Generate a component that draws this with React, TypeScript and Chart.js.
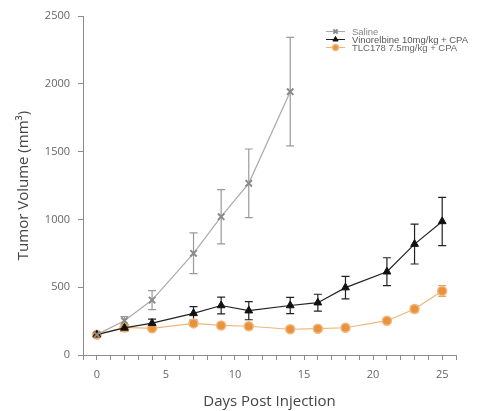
import React, { useEffect, useRef } from "react";
import { Chart, registerables } from "chart.js";
import { drawPoint } from "chart.js/helpers";

Chart.register(...registerables);

const days = [0, 2, 4, 7, 9, 11, 14, 16, 18, 21, 23, 25];
const salineDays = [0, 2, 4, 7, 9, 11, 14];
const saline = [150, 253, 405, 750, 1020, 1266, 1942];
const salineErr = [15, 30, 70, 150, 200, 253, 400];
const vinorelbine = [150, 200, 235, 307, 365, 327, 365, 386, 497, 614, 818, 985];
const vinorelbineErr = [15, 25, 30, 50, 62, 67, 60, 62, 83, 103, 147, 178];
const tlc178 = [150, 203, 197, 233, 218, 212, 190, 194, 201, 253, 339, 472];
const tlc178Err = [15, 15, 15, 18, 15, 15, 12, 12, 15, 18, 25, 40];
const seriesLabels = ["Saline", "Vinorelbine 10mg/kg + CPA", "TLC178 7.5mg/kg + CPA"];
const xTitle = "Days Post Injection";
const yTitle = "Tumor Volume (mm³)";

const errColors = ["#9a9a9a", "#222222", "#eba565"];
const errors = [salineErr, vinorelbineErr, tlc178Err];
const FONT = "'Open Sans', Lato, sans-serif";

const errorBarPlugin = {
  id: "errorBars",
  beforeDatasetsDraw(chart: any) {
    const ctx = chart.ctx;
    const yScale = chart.scales.y;
    chart.data.datasets.forEach((ds: any, i: number) => {
      const meta = chart.getDatasetMeta(i);
      ctx.save();
      ctx.strokeStyle = errColors[i];
      ctx.lineWidth = 1.2;
      meta.data.forEach((pt: any, j: number) => {
        const v = ds.data[j].y;
        const e = errors[i][j];
        const x = pt.x;
        const yTop = yScale.getPixelForValue(v + e);
        const yBot = yScale.getPixelForValue(v - e);
        ctx.beginPath();
        ctx.moveTo(x, yTop);
        ctx.lineTo(x, yBot);
        ctx.moveTo(x - 4, yTop);
        ctx.lineTo(x + 4, yTop);
        ctx.moveTo(x - 4, yBot);
        ctx.lineTo(x + 4, yBot);
        ctx.stroke();
      });
      ctx.restore();
    });
  },
};

const legendPlugin = {
  id: "customLegend",
  afterDraw(chart: any) {
    const ctx = chart.ctx;
    const x0 = 326;
    const x1 = 345;
    const tx = 352;
    const ys = [31.5, 39.5, 47.5];
    const textColors = ["#858585", "#555555", "#666666"];
    chart.data.datasets.forEach((ds: any, i: number) => {
      const y = ys[i];
      ctx.save();
      ctx.strokeStyle = ds.borderColor;
      ctx.lineWidth = 1;
      ctx.beginPath();
      ctx.moveTo(x0, y);
      ctx.lineTo(x1, y);
      ctx.stroke();
      ctx.fillStyle = ds.pointBackgroundColor;
      ctx.strokeStyle = ds.pointBorderColor;
      ctx.lineWidth = ds.pointBorderWidth;
      drawPoint(ctx, { pointStyle: ds.pointStyle, rotation: 0, radius: 3, borderWidth: ds.pointBorderWidth }, (x0 + x1) / 2, y);
      ctx.fillStyle = textColors[i];
      ctx.font = "9.5px 'Liberation Sans', Arial, sans-serif";
      ctx.textBaseline = "middle";
      ctx.textAlign = "left";
      ctx.fillText(seriesLabels[i], tx, y + 0.5);
      ctx.restore();
    });
  },
};

export default function App() {
  const canvasRef = useRef<HTMLCanvasElement | null>(null);

  useEffect(() => {
    document.body.style.margin = "0";
    const canvas = canvasRef.current;
    if (!canvas) return;
    const chart = new Chart(canvas, {
      type: "line",
      data: {
        datasets: [
          {
            label: seriesLabels[0],
            data: salineDays.map((d, i) => ({ x: d, y: saline[i] })),
            borderColor: "#aaaaaa",
            borderWidth: 1.2,
            pointStyle: "crossRot",
            pointRadius: 4.5,
            pointBackgroundColor: "#8a8a8a",
            pointBorderColor: "#8a8a8a",
            pointBorderWidth: 2,
          },
          {
            label: seriesLabels[1],
            data: days.map((d, i) => ({ x: d, y: vinorelbine[i] })),
            borderColor: "#222222",
            borderWidth: 1.2,
            pointStyle: "triangle",
            pointRadius: 4.5,
            pointBackgroundColor: "#111111",
            pointBorderColor: "#111111",
            pointBorderWidth: 1,
          },
          {
            label: seriesLabels[2],
            data: days.map((d, i) => ({ x: d, y: tlc178[i] })),
            borderColor: "#f0b57a",
            borderWidth: 1.2,
            pointStyle: "circle",
            pointRadius: 4.5,
            pointBackgroundColor: "#e8923c",
            pointBorderColor: "#f3b880",
            pointBorderWidth: 1.5,
          },
        ],
      },
      options: {
        responsive: false,
        animation: false,
        devicePixelRatio: 1,
        layout: { padding: { left: 0, top: 16, right: 21, bottom: 0 } },
        plugins: {
          legend: { display: false },
          tooltip: { enabled: false },
        },
        scales: {
          x: {
            type: "linear",
            min: -1,
            max: 26,
            afterFit(scale: any) {
              scale.height = 56;
            },
            border: { display: true, color: "#8c8c8c", width: 1 },
            grid: { drawOnChartArea: false, drawTicks: true, tickLength: 5, tickColor: "#8c8c8c" },
            ticks: {
              stepSize: 1,
              autoSkip: false,
              maxRotation: 0,
              padding: 8,
              color: "#666666",
              font: { family: FONT, size: 11 },
              callback: (v: any) => (Number(v) % 5 === 0 && Number(v) >= 0 ? String(v) : ""),
            },
            title: {
              display: true,
              text: xTitle,
              color: "#444444",
              font: { family: FONT, size: 15 },
              padding: { top: 0, bottom: 0 },
            },
          },
          y: {
            min: 0,
            max: 2500,
            afterFit(scale: any) {
              scale.width = 83;
            },
            border: { display: true, color: "#8c8c8c", width: 1 },
            grid: { drawOnChartArea: false, drawTicks: true, tickLength: 5, tickColor: "#8c8c8c" },
            ticks: {
              stepSize: 500,
              padding: 8,
              color: "#666666",
              font: { family: FONT, size: 11 },
              callback: (v: any) => String(v),
            },
            title: {
              display: true,
              text: yTitle,
              color: "#444444",
              font: { family: FONT, size: 15 },
              padding: { top: 15, bottom: 0 },
            },
          },
        },
      },
      plugins: [errorBarPlugin, legendPlugin],
    } as any);
    return () => chart.destroy();
  }, []);

  return (
    <div style={{ width: 477, height: 411, background: "#ffffff" }}>
      <canvas ref={canvasRef} width={477} height={411} />
    </div>
  );
}
